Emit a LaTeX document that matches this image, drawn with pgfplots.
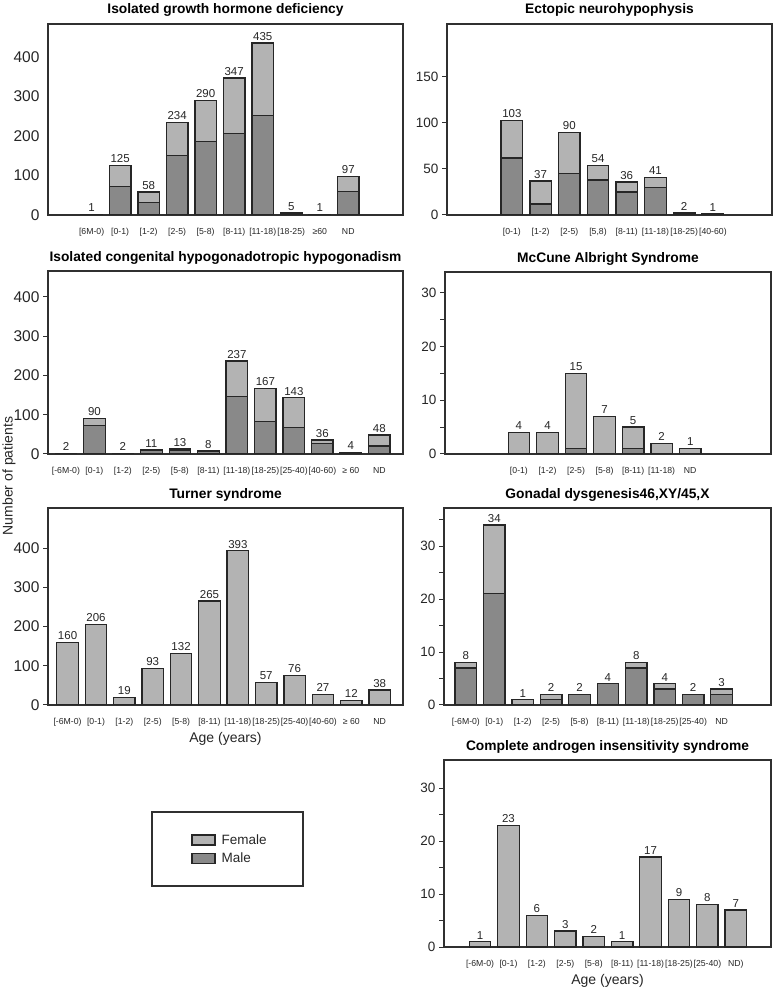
\documentclass[border=0pt]{standalone}
\usepackage{pgfplots}
\pgfplotsset{compat=1.18}
\usepackage{pgfplotstable}
\usepackage{fontspec}
\setmainfont{Liberation Sans}

\definecolor{fem}{HTML}{B3B3B3}
\definecolor{male}{HTML}{898989}
\definecolor{edge}{HTML}{262626}
\definecolor{frame}{HTML}{303030}

% x = slot, m = male, t = total (female = t - m, drawn as the part above m)
\pgfplotstableread{
x m t
0 1 1
1 72 125
2 31 58
3 150 234
4 186 290
5 207 347
6 251 435
7 5 5
8 1 1
9 59 97
}\ighd

\pgfplotstableread{
x m t
0 62 103
1 12 37
2 45 90
3 38 54
4 25 36
5 30 41
6 2 2
7 1 1
}\ectopic

\pgfplotstableread{
x m t
0 2 2
1 72 90
2 2 2
3 9 11
4 10 13
5 6 8
6 146 237
7 82 167
8 68 143
9 26 36
10 4 4
11 20 48
}\ihh

\pgfplotstableread{
x m t
0 0 4
1 0 4
2 1 15
3 0 7
4 1 5
5 0 2
6 0 1
}\mccune

\pgfplotstableread{
x t
0 160
1 206
2 19
3 93
4 132
5 265
6 393
7 57
8 76
9 27
10 12
11 38
}\turner

\pgfplotstableread{
x m t
0 7 8
1 21 34
2 0 1
3 1 2
4 2 2
5 4 4
6 7 8
7 3 4
8 2 2
9 2 3
}\gonadal

\pgfplotstableread{
x t
0 1
1 23
2 6
3 3
4 2
5 1
6 17
7 9
8 8
9 7
}\cais

\pgfplotsset{
  panel/.style={
    scale only axis,
    anchor=south west,
    axis line style={frame, line width=1.5pt},
    ybar, bar shift=0pt,
    bar width=21.5pt,
    ymin=0,
    xtick style={draw=none},
    ytick pos=left,
    tick align=outside,
    major tick length=5pt,
    minor tick length=5pt,
    ytick style={frame, line width=1pt},
    /pgf/number format/assume math mode=true,
    tick label style={color=black!85},
    yticklabel style={font=\fontsize{15.5}{16}\selectfont},
    xticklabel style={font=\fontsize{8.7}{9}\selectfont, yshift=-5pt},
    title style={font=\fontsize{13.8}{15}\selectfont\bfseries, yshift=-3pt},
    label style={font=\fontsize{14}{15}\selectfont, color=black!85},
  },
  right/.style={yticklabel style={font=\fontsize{13.5}{14}\selectfont}},
  mbar/.style={fill=male, draw=edge, line width=1.3pt},
  tbar/.style={fill=fem, draw=edge, line width=1.3pt,
    nodes near coords,
    every node near coord/.style={font=\fontsize{11.5}{12}\selectfont, color=black!85, inner sep=2pt}},
  age/.style={xlabel={Age (years)},
    xlabel style={at={(axis description cs:0.5,0)}, anchor=center, yshift=-34pt}},
}

\begin{document}
\begin{tikzpicture}
\path[use as bounding box] (0,0) rectangle (774pt,990pt);

% Isolated growth hormone deficiency
\begin{axis}[panel, at={(48pt,775pt)}, width=355pt, height=191pt,
  title={Isolated growth hormone deficiency}, title style={yshift=1pt},
  xmin=-1.53, xmax=10.92, ymax=483.5,
  ytick={0,100,200,300,400}, ytick style={draw=none},
  xtick={0,...,9},
  xticklabels={{[6M-0)},{[0-1)},{[1-2)},{[2-5)},{[5-8)},{[8-11)},{[11-18)},{[18-25)},{≥60},{ND}}]
\addplot[tbar] table[x=x, y=t] {\ighd};
\addplot[mbar] table[x=x, y=m] {\ighd};
\end{axis}

% Ectopic neurohypophysis
\begin{axis}[panel, right, at={(447pt,775pt)}, width=325pt, height=191pt,
  title={Ectopic neurohypophysis}, title style={yshift=1pt},
  xmin=-2.26, xmax=9.06, ymax=207.6,
  ytick={0,50,100,150},
  xtick={0,...,7},
  xticklabels={{[0-1)},{[1-2)},{[2-5)},{[5,8)},{[8-11)},{[11-18)},{[18-25)},{[40-60)}}]
\addplot[tbar] table[x=x, y=t] {\ectopic};
\addplot[mbar] table[x=x, y=m] {\ectopic};
\end{axis}

% Isolated congenital hypogonadotropic hypogonadism
\begin{axis}[panel, at={(48pt,536pt)}, width=355pt, height=183pt,
  title={Isolated congenital hypogonadotropic hypogonadism},
  xmin=-0.63, xmax=11.83, ymax=466,
  ytick={0,100,200,300,400},
  xtick={0,...,11},
  xticklabels={{[-6M-0)},{[0-1)},{[1-2)},{[2-5)},{[5-8)},{[8-11)},{[11-18)},{[18-25)},{[25-40)},{[40-60)},{≥ 60},{ND}}]
\addplot[tbar] table[x=x, y=t] {\ihh};
\addplot[mbar] table[x=x, y=m] {\ihh};
\end{axis}

% McCune Albright Syndrome
\begin{axis}[panel, right, at={(445pt,536pt)}, width=326pt, height=182pt,
  title={McCune Albright Syndrome},
  xmin=-2.59, xmax=8.83, ymax=33.9,
  ytick={0,10,20,30}, minor ytick={5,15,25},
  xtick={0,...,6},
  xticklabels={{[0-1)},{[1-2)},{[2-5)},{[5-8)},{[8-11)},{[11-18)},{ND}}]
\addplot[tbar] table[x=x, y=t] {\mccune};
\addplot[mbar] table[x=x, y=m] {\mccune};
\end{axis}

% Turner syndrome
\begin{axis}[panel, age, at={(48pt,285pt)}, width=355pt, height=197pt,
  title={Turner syndrome},
  xmin=-0.69, xmax=11.82, ymax=502,
  ytick={0,100,200,300,400},
  xtick={0,...,11},
  xticklabels={{[-6M-0)},{[0-1)},{[1-2)},{[2-5)},{[5-8)},{[8-11)},{[11-18)},{[18-25)},{[25-40)},{[40-60)},{≥ 60},{ND}},
  legend image code/.code={\draw[#1] (0pt,-5pt) rectangle (23pt,5pt);},
  legend cell align=left,
  legend style={at={(axis description cs:0.403,-0.645)}, anchor=north west,
    draw=none, fill=none, inner sep=0pt, row sep=3pt, column sep=4pt,
    font=\fontsize{13.5}{14}\selectfont, text=black!85}]
\addlegendimage{fill=fem, draw=edge, line width=1.3pt}
\addlegendentry{Female}
\addlegendimage{fill=male, draw=edge, line width=1.3pt}
\addlegendentry{Male}
\addplot[tbar, forget plot] table[x=x, y=t] {\turner};
\end{axis}

% Gonadal dysgenesis
\begin{axis}[panel, right, at={(444pt,285pt)}, width=327pt, height=197pt,
  title={Gonadal dysgenesis46,XY/45,X},
  xmin=-0.77, xmax=10.74, ymax=37.2,
  ytick={0,10,20,30}, minor ytick={5,15,25,35},
  xtick={0,...,9},
  xticklabels={{[-6M-0)},{[0-1)},{[1-2)},{[2-5)},{[5-8)},{[8-11)},{[11-18)},{[18-25)},{[25-40)},{ND}}]
\addplot[tbar] table[x=x, y=t] {\gonadal};
\addplot[mbar] table[x=x, y=m] {\gonadal};
\end{axis}

% Complete androgen insensitivity syndrome
\begin{axis}[panel, right, age, at={(444pt,43pt)}, width=327pt, height=187pt,
  title={Complete androgen insensitivity syndrome},
  xmin=-1.27, xmax=10.24, ymax=35.3,
  ytick={0,10,20,30}, minor ytick={5,15,25},
  xtick={0,...,9},
  xticklabels={{[-6M-0)},{[0-1)},{[1-2)},{[2-5)},{[5-8)},{[8-11)},{[11-18)},{[18-25)},{[25-40)},{ND)}}]
\addplot[tbar] table[x=x, y=t] {\cais};
\end{axis}

% legend frame and shared y label
\draw[frame, line width=1.5pt] (152pt,178pt) rectangle (303pt,104pt);
\node[rotate=90, font=\fontsize{14}{15}\selectfont, text=black!85] at (9pt,514pt) {Number of patients};
\end{tikzpicture}
\end{document}
